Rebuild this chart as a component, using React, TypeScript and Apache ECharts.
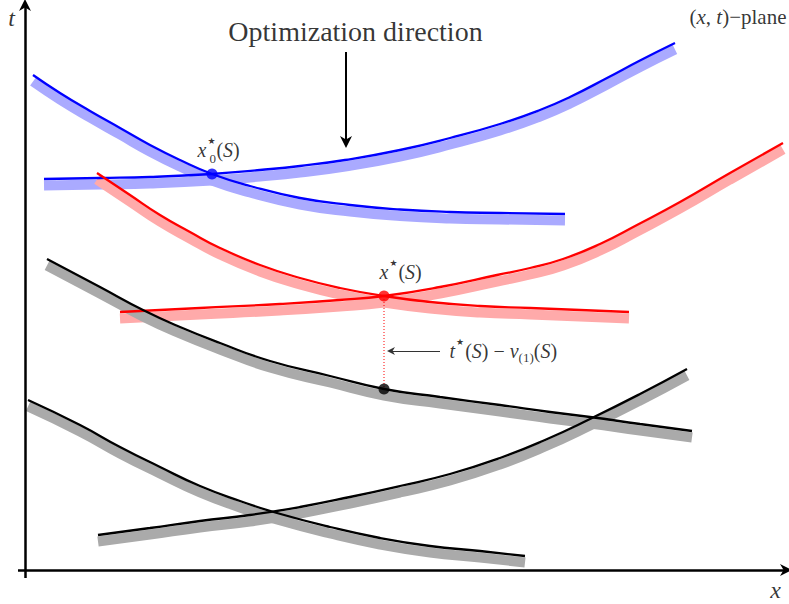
import React, { useEffect, useRef } from 'react';
import * as echarts from 'echarts';

const SERIF = '"Liberation Serif", "Times New Roman", serif';

// Curves in (x, t) units
const blueA = [[8,495],[35,477],[65,459],[95,442],[125,425],[155,410],[187,396],[225,384],[275,372],[325,365],[375,360.5],[425,358],[475,357],[540,356]];
const blueB = [[19,391],[75,392],[125,393],[187,396],[235,400],[275,404],[320,410],[375,420],[425,432],[475,446],[515,460],[545,473],[582,492],[615,509.5],[650,527]];
const redA = [[72,397],[105,375],[135,355],[165,338],[195,322],[235,305],[275,292],[315,282],[359,274],[405,268],[455,264],[505,262],[555,260],[604,258]];
const redB = [[95,258],[175,262],[255,266],[315,270],[359,274],[415,283],[472,295],[505,302],[538,311],[575,326],[612,345],[655,368],[705,397],[758,427]];
const blackA = [[22,311],[75,283],[118,260],[155,243],[195,227],[245,209],[305,194],[359,181],[415,173],[475,165],[525,158],[565,153],[615,146],[667,139]];
const blackB = [[3,170],[55,145],[95,123],[135,103],[175,84],[215,69],[252,57],[305,43],[355,32],[405,24],[455,19],[500,14]];
const blackC = [[73,35],[125,42],[175,49],[225,55],[275,63],[325,73],[375,84],[425,96],[475,112],[520,130],[565,151],[615,176],[662,201]];

const blueDot = [187, 396];
const redDot = [359, 274];
const blackDot = [359, 181];

const tAxis = [[0, -8], [0, 565]];
const xAxisLine = [[-7, 0], [761, 0]];
const optArrow = [[321, 518], [321, 428]];
const gapArrow = [[415, 219], [366, 219]];

const SHADOW_SHIFT = 6.5;

const RICH = {
  i: { fontFamily: SERIF, fontStyle: 'italic', fontSize: 20, lineHeight: 26, color: '#000' },
  n: { fontFamily: SERIF, fontSize: 20, lineHeight: 26, color: '#000' },
  sup: { fontFamily: 'DejaVu Sans', fontSize: 9, lineHeight: 14, verticalAlign: 'top', color: '#000', padding: [0, 1, 0, 1] },
  sub: { fontFamily: SERIF, fontSize: 13, lineHeight: 14, verticalAlign: 'bottom', color: '#000' },
  big: { fontFamily: SERIF, fontSize: 28, lineHeight: 32, color: '#000' },
  axi: { fontFamily: SERIF, fontStyle: 'italic', fontSize: 24, lineHeight: 28, color: '#000' },
  pi: { fontFamily: SERIF, fontStyle: 'italic', fontSize: 21, lineHeight: 26, color: '#000' },
  pn: { fontFamily: SERIF, fontSize: 21, lineHeight: 26, color: '#000' },
};

const labels = [
  { pos: [-13, 552], text: '{axi|t}', align: 'center' },
  { pos: [751, -20], text: '{axi|x}', align: 'center' },
  { pos: [762, 553], text: '{pn|(}{pi|x}{pn|, }{pi|t}{pn|)−plane}', align: 'right' },
  { pos: [331, 538], text: '{big|Optimization direction}', align: 'center' },
  { pos: [173, 420], text: '{i|x}{sup|★}{n|(}{i|S}{n|)}', align: 'left' },
  { pos: [185, 412], text: '{sub|0}', align: 'left' },
  { pos: [355, 298], text: '{i|x}{sup|★}{n|(}{i|S}{n|)}', align: 'left' },
  { pos: [425, 219], text: '{i|t}{sup|★}{n|(}{i|S}{n|) − }{i|v}{sub|(1)}{n|(}{i|S}{n|)}', align: 'left' },
];

const ARROW = 'path://M0,10 L5,0 L10,10 L5,7 Z';

function curvePair(data: number[][], color: string, shadow: string) {
  return [
    {
      type: 'line', data: data.map(p => [p[0], p[1] - SHADOW_SHIFT]), smooth: 0.5,
      showSymbol: false, silent: true, z: 1,
      lineStyle: { color: shadow, width: 10, cap: 'butt' },
    },
    {
      type: 'line', data, smooth: 0.5, showSymbol: false, silent: true, z: 3,
      lineStyle: { color, width: 2.3 },
    },
  ];
}

export default function App() {
  const ref = useRef<HTMLDivElement>(null);
  useEffect(() => {
    const chart = echarts.init(ref.current!, null, { renderer: 'svg' });
    const series: any[] = [
      ...curvePair(blueA, '#0000ff', '#aaaaff'),
      ...curvePair(blueB, '#0000ff', '#aaaaff'),
      ...curvePair(redA, '#ff0000', '#ffaaaa'),
      ...curvePair(redB, '#ff0000', '#ffaaaa'),
      ...curvePair(blackA, '#000000', '#aaaaaa'),
      ...curvePair(blackB, '#000000', '#aaaaaa'),
      ...curvePair(blackC, '#000000', '#aaaaaa'),
      {
        type: 'line', data: [redDot, blackDot], showSymbol: false, z: 4,
        lineStyle: { color: '#ff0000', width: 1, type: [1, 2] },
      },
      {
        type: 'scatter', z: 5, symbolSize: 11,
        data: [
          { value: blueDot, itemStyle: { color: '#0000ff' } },
          { value: redDot, itemStyle: { color: '#ff0000' } },
          { value: blackDot, itemStyle: { color: '#000000' } },
        ],
      },
      {
        type: 'lines', coordinateSystem: 'cartesian2d', z: 6,
        symbol: ['none', ARROW], symbolSize: 12,
        lineStyle: { color: '#000', width: 2.5, opacity: 1, curveness: 0 },
        data: [{ coords: tAxis }, { coords: xAxisLine }],
      },
      {
        type: 'lines', coordinateSystem: 'cartesian2d', z: 6,
        symbol: ['none', ARROW], symbolSize: 12,
        lineStyle: { color: '#000', width: 2, opacity: 1 },
        data: [{ coords: optArrow }],
      },
      {
        type: 'lines', coordinateSystem: 'cartesian2d', z: 6,
        symbol: ['none', ARROW], symbolSize: 8,
        lineStyle: { color: '#333', width: 1.2, opacity: 1 },
        data: [{ coords: gapArrow }],
      },
      {
        type: 'scatter', z: 7, symbolSize: 1, silent: true,
        itemStyle: { color: 'rgba(0,0,0,0)' },
        data: labels.map(l => ({
          value: l.pos,
          label: {
            show: true, position: [0, 0], align: l.align, verticalAlign: 'middle',
            formatter: l.text, rich: RICH,
          },
        })),
      },
    ];
    chart.setOption({
      animation: false,
      grid: { left: 0, right: 0, top: 0, bottom: 0 },
      xAxis: { type: 'value', min: -25, max: 764, show: false },
      yAxis: { type: 'value', min: -34, max: 570, show: false },
      series,
    });
    return () => chart.dispose();
  }, []);
  return <div ref={ref} style={{ position: 'absolute', left: 0, top: 0, width: 789, height: 604, background: '#fff' }} />;
}
